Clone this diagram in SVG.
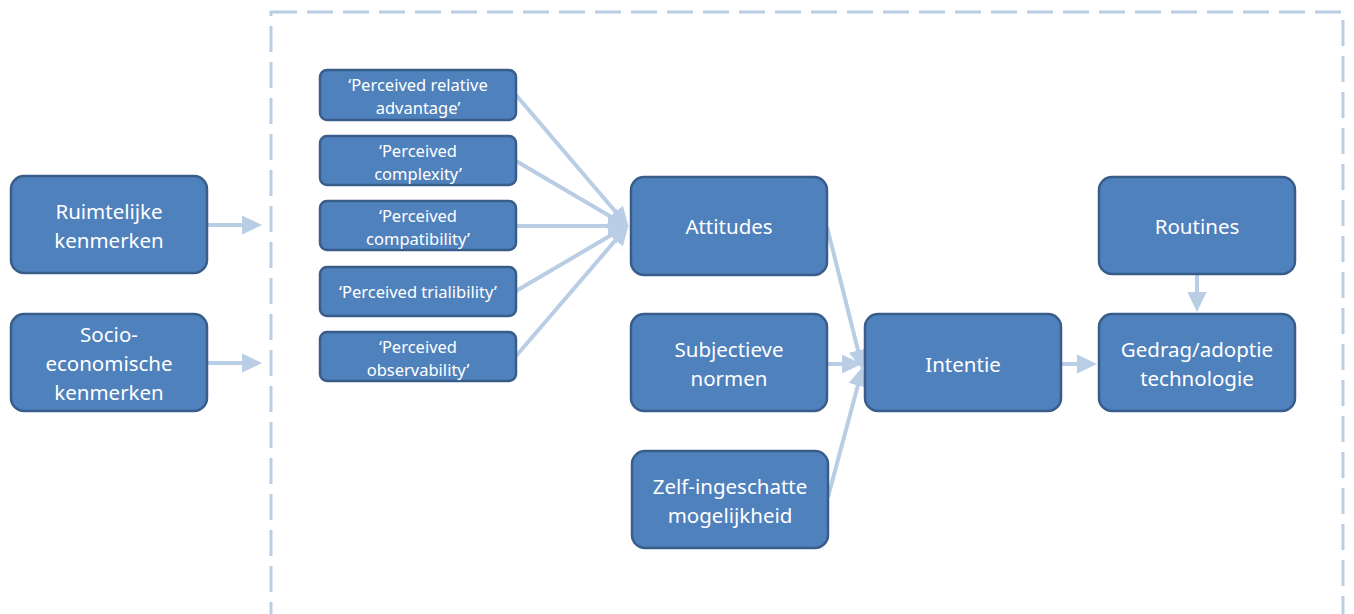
<svg xmlns="http://www.w3.org/2000/svg" width="1354" height="614" viewBox="0 0 1354 614">
<style>
.n{fill:#4F81BD;stroke:#385D8A;stroke-width:2.5}
.t{fill:#fff;font-family:"Noto Sans","Open Sans",sans-serif;font-size:20.5px;text-anchor:middle;dominant-baseline:central}
.s{font-size:16.5px}
.c{stroke:#B9CDE5;stroke-width:4;fill:none}
</style>
<defs>
<marker id="a" markerWidth="6" markerHeight="6" refX="4" refY="3" orient="auto" markerUnits="strokeWidth">
<path d="M0,0.6 L5,3 L0,5.4 z" fill="#B9CDE5"/>
</marker>
</defs>
<rect x="271" y="12" width="1072" height="640" fill="none" stroke="#B9CDE5" stroke-width="3" stroke-dasharray="26 10"/>
<g id="connectors">
<line class="c" x1="207" y1="225" x2="258" y2="225" marker-end="url(#a)"/>
<line class="c" x1="207" y1="363" x2="258" y2="363" marker-end="url(#a)"/>
<line class="c" x1="516" y1="95" x2="626" y2="224" marker-end="url(#a)"/>
<line class="c" x1="516" y1="161" x2="625" y2="225" marker-end="url(#a)"/>
<line class="c" x1="516" y1="226" x2="624" y2="226" marker-end="url(#a)"/>
<line class="c" x1="516" y1="291" x2="625" y2="227" marker-end="url(#a)"/>
<line class="c" x1="516" y1="356" x2="626" y2="228" marker-end="url(#a)"/>
<line class="c" x1="827" y1="227" x2="862" y2="366" marker-end="url(#a)"/>
<line class="c" x1="827" y1="364" x2="858" y2="364" marker-end="url(#a)"/>
<line class="c" x1="828" y1="497" x2="862" y2="370" marker-end="url(#a)"/>
<line class="c" x1="1061" y1="364" x2="1093" y2="364" marker-end="url(#a)"/>
<line class="c" x1="1197" y1="275" x2="1197" y2="308" marker-end="url(#a)"/>
</g>
<g id="ruimtelijke"><rect class="n" x="11" y="176" width="196" height="97" rx="13"/><text class="t" x="109" y="211">Ruimtelijke</text><text class="t" x="109" y="240">kenmerken</text></g>
<g id="socio"><rect class="n" x="11" y="314" width="196" height="97" rx="13"/><text class="t" x="109" y="334">Socio-</text><text class="t" x="109" y="363">economische</text><text class="t" x="109" y="392">kenmerken</text></g>
<g id="advantage"><rect class="n" x="320" y="70" width="196" height="50" rx="7"/><text class="t s" x="418" y="84">‘Perceived relative</text><text class="t s" x="418" y="107">advantage’</text></g>
<g id="complexity"><rect class="n" x="320" y="136" width="196" height="49" rx="7"/><text class="t s" x="418" y="150">‘Perceived</text><text class="t s" x="418" y="173">complexity’</text></g>
<g id="compatibility"><rect class="n" x="320" y="201" width="196" height="49" rx="7"/><text class="t s" x="418" y="215">‘Perceived</text><text class="t s" x="418" y="238">compatibility’</text></g>
<g id="trialability"><rect class="n" x="320" y="267" width="196" height="49" rx="7"/><text class="t s" x="418" y="291">‘Perceived trialibility’</text></g>
<g id="observability"><rect class="n" x="320" y="332" width="196" height="49" rx="7"/><text class="t s" x="418" y="346">‘Perceived</text><text class="t s" x="418" y="369">observability’</text></g>
<g id="attitudes"><rect class="n" x="631" y="177" width="196" height="98" rx="13"/><text class="t" x="729" y="226">Attitudes</text></g>
<g id="subjectieve"><rect class="n" x="631" y="314" width="196" height="97" rx="13"/><text class="t" x="729" y="349">Subjectieve</text><text class="t" x="729" y="378">normen</text></g>
<g id="zelf"><rect class="n" x="632" y="451" width="196" height="97" rx="13"/><text class="t" x="730" y="486">Zelf-ingeschatte</text><text class="t" x="730" y="515">mogelijkheid</text></g>
<g id="intentie"><rect class="n" x="865" y="314" width="196" height="97" rx="13"/><text class="t" x="963" y="364">Intentie</text></g>
<g id="routines"><rect class="n" x="1099" y="177" width="196" height="97" rx="13"/><text class="t" x="1197" y="226">Routines</text></g>
<g id="gedrag"><rect class="n" x="1099" y="314" width="196" height="97" rx="13"/><text class="t" x="1197" y="349">Gedrag/adoptie</text><text class="t" x="1197" y="378">technologie</text></g>
</svg>
